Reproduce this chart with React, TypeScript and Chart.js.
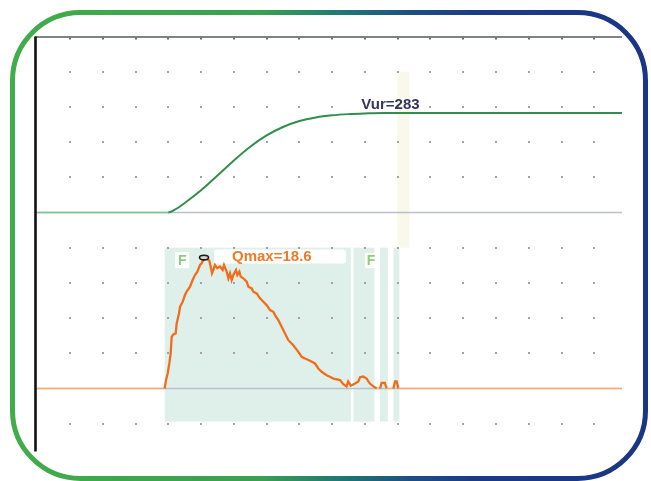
import React, { useEffect, useRef } from "react";
import { Chart, registerables } from "chart.js";

Chart.register(...registerables);

// Time axis (s) and value ranges
const X_MIN = -0.68;
const X_MAX = 178.45;
const VOL_MIN = -676;
const VOL_MAX = 500;
const FLOW_MIN = -8.81;
const FLOW_MAX = 50;

// Grid columns (s) and rows (ml on the volume scale)
const gridTimes = [10, 20, 30, 40, 50, 60, 70, 80, 90, 100, 110, 120, 130, 140, 150, 160, 170];
const gridVolumes = [400, 300, 200, 100, -100, -200, -300, -400, -600];

// Voided volume curve (ml)
const volTime = [0, 40, 42, 45, 50, 55, 60, 65, 70, 75, 80, 85, 90, 95, 100, 106, 115, 178.45];
const volume = [0, 0, 8, 27, 63, 105, 148, 187, 219, 243, 260, 270, 276, 279.5, 281.5, 283, 283, 283];

// Flow rate curve (ml/s)
const flowTime = [
  0, 38.89, 39.3, 39.8, 40.31, 40.72, 41.03, 41.53, 42.25, 42.55, 43.26, 43.57, 44.38, 45.09, 45.6,
  46.62, 47.43, 48.15, 48.86, 49.67, 50.18, 50.69, 51.2, 52.0, 52.52, 52.93, 53.33, 53.74, 54.25,
  54.96, 55.78, 56.59, 57.0, 57.81, 58.32, 58.83, 59.34, 59.84, 60.66, 61.07, 61.68, 62.08, 62.9,
  63.91, 64.42, 65.44, 65.95, 66.96, 67.98, 69.0, 70.02, 71.03, 72.05, 72.56, 73.57, 74.59, 75.61,
  76.63, 78.15, 79.68, 80.7, 81.71, 83.24, 84.77, 85.78, 86.8, 88.33, 89.3,
  90.4, 92.4, 93.4, 94.4, 94.9, 95.7, 97.0, 98.0, 98.5, 99.5, 100.5, 101.5, 102.6, 103.6, 104.6,
  105.1, 106.1, 106.6, 108.7, 109.2, 109.7, 110.2, 178.45,
];
const flow = [
  0, 0, 1.18, 2.13, 3.55, 4.97, 7.34, 7.67, 7.81, 9.24, 10.66, 11.61, 12.32, 13.27, 13.75,
  14.46, 15.41, 16.12, 16.6, 17.54, 17.78, 18.25, 18.6, 18.35, 18.16, 17.31, 16.36, 16.83, 17.54,
  17.07, 17.31, 16.83, 17.54, 16.6, 15.65, 16.36, 15.41, 16.12, 16.83, 16.12, 16.6, 15.89, 15.65,
  15.17, 14.46, 14.22, 13.75, 13.51, 12.8, 12.32, 11.85, 11.14, 10.9, 10.42, 9.71, 8.76, 7.81,
  6.86, 6.15, 5.21, 4.5, 4.26, 3.93, 3.55, 2.84, 2.37, 1.89, 1.66,
  1.4, 1.2, 0.6, 0.3, 1.0, 0.4, 0.7, 1.0, 1.6, 1.7, 1.4, 0.7, 0.3, 0, 0,
  0.8, 0.8, 0, 0, 1.0, 1.0, 0, 0,
];

// Flow intervals (s)
const bandStart = [38.9, 96.5, 104.6, 108.7];
const bandEnd = [95.7, 102.9, 107.0, 110.5];
const BAND_TOP = 20;
const BAND_BOTTOM = -4.7;

// Marker interval in the volume panel (s)
const markStart = 109.9;
const markEnd = 113.6;

const VUR = 283;
const QMAX = 18.6;
const QMAX_TIME = 51.2;

const FONT = '"Liberation Sans", Arial, sans-serif';

const decorPlugin = {
  id: "uroDecor",
  beforeDatasetsDraw(chart: any) {
    const { ctx, chartArea } = chart;
    const x = chart.scales.x;
    const yV = chart.scales.yVol;
    const yF = chart.scales.yFlow;
    ctx.save();

    // marker band in volume panel
    ctx.fillStyle = "#f8f9ea";
    const mx0 = x.getPixelForValue(markStart);
    const mx1 = x.getPixelForValue(markEnd);
    const my0 = yV.getPixelForValue(400);
    const my1 = yF.getPixelForValue(BAND_TOP);
    ctx.fillRect(mx0, my0, mx1 - mx0, my1 - my0);

    // flow intervals
    ctx.fillStyle = "#dff0ea";
    const by0 = yF.getPixelForValue(BAND_TOP);
    const by1 = yF.getPixelForValue(BAND_BOTTOM);
    bandStart.forEach((s, i) => {
      const a = x.getPixelForValue(s);
      const b = x.getPixelForValue(bandEnd[i]);
      ctx.fillRect(a, by0, b - a, by1 - by0);
    });

    // dotted grid
    ctx.fillStyle = "#9ea3ad";
    gridTimes.forEach((t) => {
      const px = Math.round(x.getPixelForValue(t));
      gridVolumes.forEach((v) => {
        const py = Math.round(yV.getPixelForValue(v));
        ctx.fillRect(px - 1, py - 1, 2, 2);
      });
    });

    // top frame line with tick marks
    const topY = yV.getPixelForValue(VOL_MAX);
    ctx.strokeStyle = "#55585f";
    ctx.lineWidth = 1.6;
    ctx.beginPath();
    ctx.moveTo(chartArea.left, topY + 0.5);
    ctx.lineTo(chartArea.right, topY + 0.5);
    ctx.stroke();
    ctx.fillStyle = "#6a6d74";
    gridTimes.forEach((t) => {
      const px = Math.round(x.getPixelForValue(t));
      ctx.fillRect(px - 1, topY + 1, 2, 2);
    });

    // baselines
    ctx.strokeStyle = "#b9bfcc";
    ctx.lineWidth = 1.5;
    [yV.getPixelForValue(0), yF.getPixelForValue(0)].forEach((py) => {
      ctx.beginPath();
      ctx.moveTo(chartArea.left, py);
      ctx.lineTo(chartArea.right, py);
      ctx.stroke();
    });

    // left axis
    ctx.strokeStyle = "#111111";
    ctx.lineWidth = 2.6;
    ctx.beginPath();
    ctx.moveTo(chartArea.left + 0.5, topY);
    ctx.lineTo(chartArea.left + 0.5, chartArea.bottom + 1);
    ctx.stroke();

    // label boxes
    ctx.fillStyle = "#ffffff";
    const qx = x.getPixelForValue(QMAX_TIME);
    const qy = yF.getPixelForValue(QMAX);
    ctx.beginPath();
    ctx.roundRect(qx + 9, qy - 8, 132, 14, 3);
    ctx.fill();
    const f1 = x.getPixelForValue(bandStart[0]);
    ctx.fillRect(f1 + 10.5, by0 + 4.5, 14, 16);
    const f2 = x.getPixelForValue(bandStart[1]);
    ctx.fillRect(f2 + 11.5, by0 + 5.5, 12, 15);

    // interval labels
    ctx.font = `bold 14px ${FONT}`;
    ctx.fillStyle = "#8fcb80";
    ctx.textAlign = "center";
    ctx.textBaseline = "middle";
    ctx.fillText("F", f1 + 17.5, by0 + 13);
    ctx.fillText("F", f2 + 17.5, by0 + 13.5);

    // Qmax label
    ctx.font = `bold 15px ${FONT}`;
    ctx.fillStyle = "#f07a2a";
    ctx.textAlign = "left";
    ctx.fillText(`Qmax=${QMAX}`, qx + 27, qy - 0.5);

    // Vur label
    ctx.font = `bold 15px ${FONT}`;
    ctx.fillStyle = "#35355f";
    ctx.textAlign = "center";
    ctx.fillText(`Vur=${VUR}`, x.getPixelForValue(107.8), yV.getPixelForValue(VUR) - 8.5);

    ctx.restore();
  },
  afterDatasetsDraw(chart: any) {
    const { ctx } = chart;
    const x = chart.scales.x;
    const yF = chart.scales.yFlow;
    ctx.save();
    // Qmax marker
    ctx.strokeStyle = "#1a1a1a";
    ctx.fillStyle = "#d9d2cc";
    ctx.lineWidth = 1.6;
    ctx.beginPath();
    ctx.ellipse(x.getPixelForValue(QMAX_TIME) - 1, yF.getPixelForValue(QMAX), 4.5, 2.3, 0, 0, Math.PI * 2);
    ctx.fill();
    ctx.stroke();
    ctx.restore();
  },
  afterDraw(chart: any) {
    const { ctx } = chart;
    ctx.save();
    const g = ctx.createLinearGradient(0, 0, 651, 0);
    g.addColorStop(0, "#41ad4a");
    g.addColorStop(0.4, "#3aa052");
    g.addColorStop(0.52, "#1f7a72");
    g.addColorStop(0.63, "#1e4f82");
    g.addColorStop(0.74, "#1b3a86");
    g.addColorStop(1, "#1a3585");
    ctx.strokeStyle = g;
    ctx.lineWidth = 5;
    ctx.beginPath();
    ctx.roundRect(12.5, 12.5, 633, 466, 68);
    ctx.stroke();
    ctx.restore();
  },
};

export default function App() {
  const canvasRef = useRef<HTMLCanvasElement | null>(null);

  useEffect(() => {
    if (!canvasRef.current) return;
    const chart = new Chart(canvasRef.current, {
      type: "line",
      data: {
        datasets: [
          {
            label: "Volume",
            data: volTime.map((t, i) => ({ x: t, y: volume[i] })),
            yAxisID: "yVol",
            borderColor: "#2f8f4b",
            borderWidth: 2,
            pointRadius: 0,
            cubicInterpolationMode: "monotone",
            segment: {
              borderColor: (c: any) => (c.p0.parsed.y === 0 && c.p1.parsed.y === 0 ? "#74c68c" : "#2f8f4b"),
              borderWidth: (c: any) => (c.p0.parsed.y === 0 && c.p1.parsed.y === 0 ? 1.5 : 2),
            },
          },
          {
            label: "Flow",
            data: flowTime.map((t, i) => ({ x: t, y: flow[i] })),
            yAxisID: "yFlow",
            borderColor: "#f26c1c",
            borderWidth: 2.3,
            pointRadius: 0,
            tension: 0,
            segment: {
              borderColor: (c: any) => (c.p0.parsed.y === 0 && c.p1.parsed.y === 0 ? "#f8ad72" : "#f26c1c"),
              borderWidth: (c: any) => (c.p0.parsed.y === 0 && c.p1.parsed.y === 0 ? 1.6 : 2.3),
            },
          },
        ],
      },
      options: {
        responsive: false,
        animation: false,
        layout: { padding: { left: 35, top: 36.5, right: 29, bottom: 30.5 } },
        plugins: { legend: { display: false }, tooltip: { enabled: false } },
        scales: {
          x: { type: "linear", min: X_MIN, max: X_MAX, display: false },
          yVol: { type: "linear", min: VOL_MIN, max: VOL_MAX, display: false },
          yFlow: { type: "linear", min: FLOW_MIN, max: FLOW_MAX, display: false },
        },
      },
      plugins: [decorPlugin],
    });
    return () => chart.destroy();
  }, []);

  return (
    <div style={{ position: "fixed", left: 0, top: 0, width: 651, height: 481, background: "#ffffff" }}>
      <canvas ref={canvasRef} width={651} height={481} style={{ display: "block", width: 651, height: 481 }} />
    </div>
  );
}
